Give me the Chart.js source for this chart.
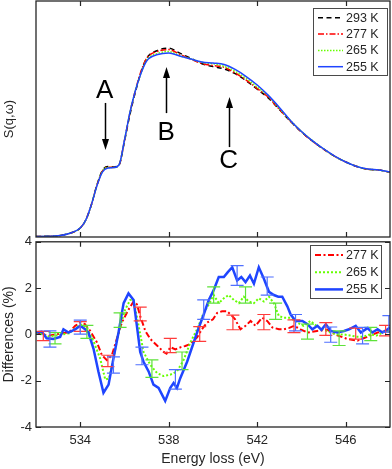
<!DOCTYPE html>
<html><head><meta charset="utf-8">
<script src="https://cdn.jsdelivr.net/npm/chart.js@4.4.1/dist/chart.umd.min.js"></script>
<style>
html,body{margin:0;padding:0;background:#fff;}
#wrap{position:relative;width:392px;height:469px;overflow:hidden;}
canvas{position:absolute;left:0;}
</style>
</head><body>
<div id="wrap">
<canvas id="bot" width="392" height="239" style="top:230px"></canvas>
<canvas id="top" width="392" height="238" style="top:0px"></canvas>
</div>
<script>
// ---------- DATA ----------
const xTicks = [534, 538, 542, 546];
const yTicksDiff = [-4, -2, 0, 2, 4];

// Top panel: S(q,w) spectra (arbitrary units)
const energies = [532, 532.5, 533, 533.5, 534, 534.25, 534.5, 534.75, 535, 535.25, 535.5, 535.75, 536, 536.25, 536.5, 536.75, 537, 537.5, 538, 538.5, 539, 539.5, 540, 540.5, 541, 541.5, 542, 542.5, 543, 543.5, 544, 544.5, 545, 545.5, 546, 546.5, 547, 547.5, 548];
const s293 = [0.002,0.003,0.005,0.015,0.038,0.072,0.136,0.219,0.282,0.299,0.297,0.305,0.406,0.521,0.617,0.699,0.757,0.791,0.800,0.779,0.757,0.734,0.722,0.712,0.692,0.662,0.626,0.589,0.540,0.490,0.445,0.406,0.372,0.342,0.318,0.299,0.287,0.284,0.274];
const s277 = [0.002,0.003,0.005,0.015,0.038,0.072,0.136,0.218,0.279,0.296,0.295,0.305,0.409,0.527,0.624,0.703,0.757,0.787,0.794,0.774,0.754,0.735,0.727,0.719,0.695,0.665,0.629,0.592,0.541,0.491,0.445,0.406,0.372,0.342,0.318,0.299,0.287,0.284,0.274];
const s265 = [0.002,0.003,0.005,0.015,0.038,0.072,0.136,0.218,0.278,0.294,0.294,0.305,0.410,0.529,0.623,0.696,0.749,0.778,0.786,0.768,0.755,0.740,0.734,0.723,0.702,0.672,0.635,0.598,0.544,0.493,0.447,0.408,0.373,0.342,0.318,0.299,0.287,0.284,0.274];
const s255 = [0.002,0.003,0.005,0.015,0.038,0.072,0.136,0.216,0.275,0.292,0.294,0.305,0.411,0.530,0.623,0.695,0.746,0.773,0.780,0.767,0.754,0.742,0.737,0.731,0.710,0.680,0.644,0.600,0.549,0.494,0.447,0.407,0.373,0.343,0.318,0.299,0.288,0.284,0.275];

// Bottom panel: differences (%)
const diffE277 = [532.0,532.3,532.6,532.9,533.2,533.5,533.77,534.0,534.2,534.45,534.75,534.98,535.2,535.43,535.65,535.88,536.18,536.41,536.56,536.71,536.94,537.17,537.47,537.77,537.9,538.07,538.3,538.55,538.75,538.98,539.28,539.5,539.73,540.0,540.19,540.41,540.64,540.87,541.0,541.24,541.47,541.7,541.92,542.22,542.45,542.68,542.98,543.2,543.45,543.66,543.95,544.27,544.7,545.17,545.62,546.08,546.53,546.98,547.44,547.89,548.0];
const diff277  = [0.08,0.0,-0.05,0.0,0.05,0.1,0.37,0.51,0.45,0.15,-0.34,-0.9,-1.11,-0.9,-0.2,0.51,1.07,1.42,1.3,0.79,0.15,-0.2,-0.48,-0.76,-0.83,-0.55,-0.65,-0.55,-0.5,-0.41,-0.13,0.22,0.51,0.65,0.93,1.0,1.0,0.79,0.65,0.22,0.37,0.58,0.37,0.72,0.58,0.3,0.22,0.22,0.28,0.37,0.22,0.08,0.15,0.2,-0.04,-0.2,-0.27,-0.1,0.08,0.15,0.1];

const diffE265 = [532.0,532.3,532.6,532.9,533.2,533.5,533.77,534.0,534.3,534.6,534.9,535.13,535.3,535.5,535.73,536.03,536.26,536.41,536.64,536.86,537.17,537.47,537.77,538.07,538.37,538.67,538.98,539.28,539.58,539.8,540.03,540.26,540.49,540.71,540.94,541.17,541.39,541.62,541.85,542.07,542.3,542.53,542.75,542.98,543.21,543.5,543.8,544.1,544.4,544.7,545.0,545.3,545.6,545.9,546.2,546.5,546.8,547.1,547.4,547.7,548.0];
const diff265  = [0.05,0.0,-0.1,-0.05,0.0,0.05,0.25,0.44,0.3,-0.3,-1.04,-1.95,-1.9,-1.04,0.08,1.07,1.49,1.49,0.37,-0.76,-1.32,-1.67,-1.8,-1.74,-1.6,-1.11,-0.34,0.22,0.93,1.28,1.7,1.35,1.56,1.7,1.49,1.35,1.63,1.42,1.35,1.56,1.42,1.63,1.35,0.79,0.72,0.72,0.51,0.37,0.58,0.35,0.22,0.08,0.0,0.0,-0.05,-0.1,-0.1,0.0,-0.05,0.1,0.15];

const diffE255 = [532.0,532.26,532.48,532.78,533.09,533.24,533.47,533.77,534.0,534.22,534.37,534.6,534.82,535.05,535.28,535.5,535.73,535.96,536.18,536.41,536.56,536.71,536.86,537.09,537.31,537.54,537.84,538.07,538.22,538.37,538.52,538.83,539.13,539.36,539.58,539.81,540.03,540.26,540.49,540.67,540.87,541.09,541.28,541.47,541.67,541.85,542.07,542.3,542.53,542.75,542.95,543.13,543.36,543.51,543.74,544.04,544.27,544.49,544.72,544.9,545.1,545.32,545.62,545.92,546.15,546.45,546.68,546.98,547.2,547.44,547.66,547.89,548.0];
const diff255  = [0.08,0.12,-0.17,-0.2,-0.11,0.22,0.08,0.22,0.37,0.22,0.08,-0.62,-1.6,-2.52,-2.17,-1.04,0.08,1.35,1.77,1.49,0.37,-0.76,-1.18,-1.6,-2.17,-2.31,-2.87,-2.31,-2.1,-2.31,-1.89,-1.18,-0.34,0.3,0.86,1.49,1.91,2.48,2.48,2.69,2.9,2.33,2.48,2.26,2.54,2.19,2.9,2.4,1.84,1.7,1.63,1.63,1.21,0.86,0.58,0.58,0.44,0.22,0.37,0.2,0.44,0.15,0.08,0.15,0.22,0.37,0.08,0.27,0.08,0.22,0.08,0.22,0.3];

// Error bars: [energy, low, high]
const err277 = [[532.33,-0.27,0.13],[534.0,0.13,0.55],[535.25,-1.39,-0.9],[536.71,0.58,1.18],[538.07,-0.79,-0.17],[539.4,-0.3,0.34],[540.9,0.2,0.83],[542.3,0.2,0.86],[543.66,0.08,0.63],[545.1,-0.04,0.51],[546.45,-0.2,0.27],[547.8,-0.06,0.39]];
const err265 = [[532.86,-0.41,0.08],[534.3,-0.17,0.39],[535.8,0.3,0.93],[537.24,-1.86,-1.1],[538.6,-1.52,-0.76],[540.03,1.35,2.05],[541.47,1.35,2.05],[542.83,0.65,1.35],[544.27,-0.2,0.44],[545.7,-0.48,0.15],[547.13,-0.27,0.3]];
const err255 = [[532.63,-0.55,0.15],[534.0,0.01,0.62],[535.5,-1.67,-0.97],[536.79,-1.31,-0.55],[538.3,-2.36,-1.52],[539.58,0.65,1.49],[541.09,2.12,2.97],[542.45,1.7,2.48],[543.73,0.15,0.86],[545.32,-0.34,0.32],[546.76,-0.41,0.3],[547.95,0.1,0.81]];

// Feature labels: [text, energy, label baseline value, arrow start value, arrow tip value]
const features = [['A',535.1,0.589,0.568,0.369],['B',537.88,0.411,0.525,0.72],['C',540.71,0.292,0.381,0.593]];

// ---------- STYLE / PLUGINS ----------
const INK = '#262626';
Chart.defaults.font.family = '"Liberation Sans", Arial, Helvetica, sans-serif';
Chart.defaults.color = INK;

const C293 = '#000000', C277 = '#ff0000', C265 = '#66ff00', C255 = '#1f45ff';

function xy(xs, ys){ return xs.map((x,i)=>({x:x, y:ys[i]})); }

const framePlugin = {
  id: 'frame',
  afterDraw(chart, args, opts) {
    const {ctx, chartArea:{left,right,top,bottom}} = chart;
    const xs = chart.scales.x, ys = chart.scales.y;
    ctx.save();
    ctx.strokeStyle = INK; ctx.lineWidth = 1.2;
    ctx.beginPath();
    xTicks.forEach(v => {
      const p = Math.round(xs.getPixelForValue(v)) + 0.5;
      ctx.moveTo(p, bottom); ctx.lineTo(p, bottom - 5);
      ctx.moveTo(p, top); ctx.lineTo(p, top + 5);
    });
    (opts.yTicks || []).forEach(v => {
      const p = Math.round(ys.getPixelForValue(v)) + 0.5;
      ctx.moveTo(left, p); ctx.lineTo(left + 5, p);
      ctx.moveTo(right, p); ctx.lineTo(right - 5, p);
    });
    ctx.stroke();
    ctx.lineWidth = 1.3;
    ctx.strokeRect(left, top, right - left, bottom - top);
    ctx.restore();
  }
};

const errorBarPlugin = {
  id: 'errbars',
  afterDatasetsDraw(chart) {
    const {ctx, chartArea} = chart;
    const xs = chart.scales.x, ys = chart.scales.y;
    ctx.save();
    ctx.beginPath();
    ctx.rect(chartArea.left, chartArea.top, chartArea.right - chartArea.left, chartArea.bottom - chartArea.top);
    ctx.clip();
    chart.data.datasets.forEach(ds => {
      if (!ds.errorBars) return;
      ctx.strokeStyle = ds.errorColor; ctx.lineWidth = 1.2; ctx.setLineDash([]);
      ds.errorBars.forEach(e => {
        const px = xs.getPixelForValue(e[0]);
        const lo = ys.getPixelForValue(e[1]), hi = ys.getPixelForValue(e[2]);
        ctx.beginPath();
        ctx.moveTo(px, lo); ctx.lineTo(px, hi);
        ctx.moveTo(px - 6.5, lo); ctx.lineTo(px + 6.5, lo);
        ctx.moveTo(px - 6.5, hi); ctx.lineTo(px + 6.5, hi);
        ctx.stroke();
      });
    });
    ctx.restore();
  }
};

const boxLegendPlugin = {
  id: 'boxLegend',
  afterDraw(chart, args, o) {
    if (!o || !o.box) return;
    const ctx = chart.ctx;
    ctx.save();
    ctx.fillStyle = '#fff';
    ctx.fillRect(o.box[0], o.box[1], o.box[2], o.box[3]);
    ctx.strokeStyle = '#4a4a4a'; ctx.lineWidth = 1;
    ctx.strokeRect(o.box[0] + 0.5, o.box[1] + 0.5, o.box[2], o.box[3]);
    ctx.font = '12.5px "Liberation Sans", Arial, sans-serif';
    ctx.textBaseline = 'middle'; ctx.textAlign = 'left';
    chart.data.datasets.forEach((ds, i) => {
      const y = o.row0 + i * o.rowH;
      ctx.strokeStyle = ds.borderColor; ctx.lineWidth = ds.borderWidth;
      ctx.setLineDash(ds.borderDash || []);
      ctx.beginPath(); ctx.moveTo(o.sx0, y); ctx.lineTo(o.sx1, y); ctx.stroke();
      ctx.setLineDash([]);
      ctx.fillStyle = INK;
      ctx.fillText(ds.label, o.tx, y + 0.5);
    });
    ctx.restore();
  }
};

const featurePlugin = {
  id: 'features',
  afterDatasetsDraw(chart, args, o) {
    if (!o || !o.items) return;
    const ctx = chart.ctx, xs = chart.scales.x, ys = chart.scales.y;
    ctx.save();
    ctx.fillStyle = '#000'; ctx.strokeStyle = '#000'; ctx.lineWidth = 1.5;
    ctx.font = '26px "Liberation Sans", Arial, sans-serif';
    ctx.textAlign = 'center'; ctx.textBaseline = 'alphabetic';
    o.items.forEach(f => {
      const px = xs.getPixelForValue(f[1]);
      ctx.fillText(f[0], px, ys.getPixelForValue(f[2]));
      const y0 = ys.getPixelForValue(f[3]), y1 = ys.getPixelForValue(f[4]);
      const dir = y1 > y0 ? 1 : -1;
      const ax = Math.round(px) + 0.5;
      ctx.beginPath(); ctx.moveTo(ax, y0); ctx.lineTo(ax, y1 - dir * 8); ctx.stroke();
      ctx.beginPath();
      ctx.moveTo(ax, y1); ctx.lineTo(ax - 3.5, y1 - dir * 11); ctx.lineTo(ax + 3.5, y1 - dir * 11);
      ctx.closePath(); ctx.fill();
    });
    ctx.restore();
  }
};

// ---------- TOP CHART ----------
function topSet(label, data, color, dash, order) {
  return {label, data: xy(energies, data), borderColor: color, borderWidth: 1.5, borderDash: dash,
    pointRadius: 0, fill: false, tension: 0.4, cubicInterpolationMode: 'monotone', order};
}
new Chart(document.getElementById('top'), {
  type: 'line',
  data: { datasets: [
    topSet('293 K', s293, C293, [5, 3.5], 3),
    topSet('277 K', s277, C277, [6, 2, 1.5, 2], 2),
    topSet('265 K', s265, C265, [1.5, 1.5], 1),
    topSet('255 K', s255, C255, [], 0)
  ]},
  options: {
    responsive: false, animation: false, devicePixelRatio: 1,
    layout: { padding: { left: 0, right: 2, top: 1, bottom: 1 } },
    scales: {
      x: { type: 'linear', min: 532, max: 548, display: false },
      y: { min: 0, max: 1,
        ticks: { display: false }, grid: { display: false, drawTicks: false }, border: { display: false },
        title: { display: true, text: 'S(q,ω)', font: { size: 13 }, color: INK, padding: { top: 2, bottom: 0 } },
        afterFit(s) { s.width = 36; } }
    },
    plugins: {
      legend: { display: false }, tooltip: { enabled: false },
      frame: {},
      boxLegend: { box: [313, 8, 74, 67], row0: 17.8, rowH: 16.3, sx0: 318, sx1: 343, tx: 346 },
      features: { items: features }
    }
  },
  plugins: [framePlugin, featurePlugin, boxLegendPlugin]
});

// ---------- BOTTOM CHART ----------
function botSet(label, xs, ys, color, width, dash, errs, errColor, order) {
  return {label, data: xy(xs, ys), borderColor: color, borderWidth: width, borderDash: dash,
    pointRadius: 0, fill: false, tension: 0, order, errorBars: errs, errorColor: errColor};
}
new Chart(document.getElementById('bot'), {
  type: 'line',
  data: { datasets: [
    botSet('277 K', diffE277, diff277, C277, 2, [6, 2.5, 2, 2.5], err277, '#ff3b3b', 2),
    botSet('265 K', diffE265, diff265, C265, 2, [2, 2], err265, '#5ee23a', 1),
    botSet('255 K', diffE255, diff255, C255, 2.5, [], err255, '#4f6fff', 0)
  ]},
  options: {
    responsive: false, animation: false, devicePixelRatio: 1,
    layout: { padding: { left: 0, right: 2, top: 7, bottom: 0 } },
    scales: {
      x: { type: 'linear', min: 532, max: 548,
        afterBuildTicks(s) { s.ticks = xTicks.map(v => ({ value: v })); },
        grid: { display: false, drawTicks: false }, border: { display: false },
        ticks: { font: { size: 13 }, color: INK, padding: 6, maxRotation: 0 },
        title: { display: true, text: 'Energy loss (eV)', font: { size: 14 }, color: INK, padding: { top: 0, bottom: 1 } },
        afterFit(s) { s.height = 42; } },
      y: { min: -4, max: 4,
        afterBuildTicks(s) { s.ticks = yTicksDiff.map(v => ({ value: v })); },
        grid: { display: false, drawTicks: false }, border: { display: false },
        ticks: { font: { size: 13 }, color: INK, padding: 4 },
        title: { display: true, text: 'Differences (%)', font: { size: 14 }, color: INK, padding: { top: 1, bottom: 0 } },
        afterFit(s) { s.width = 36; } }
    },
    plugins: {
      legend: { display: false }, tooltip: { enabled: false },
      frame: { yTicks: yTicksDiff },
      boxLegend: { box: [310, 15, 71, 53], row0: 25, rowH: 17.2, sx0: 315, sx1: 343, tx: 346 }
    }
  },
  plugins: [errorBarPlugin, framePlugin, boxLegendPlugin]
});
</script>
</body></html>
